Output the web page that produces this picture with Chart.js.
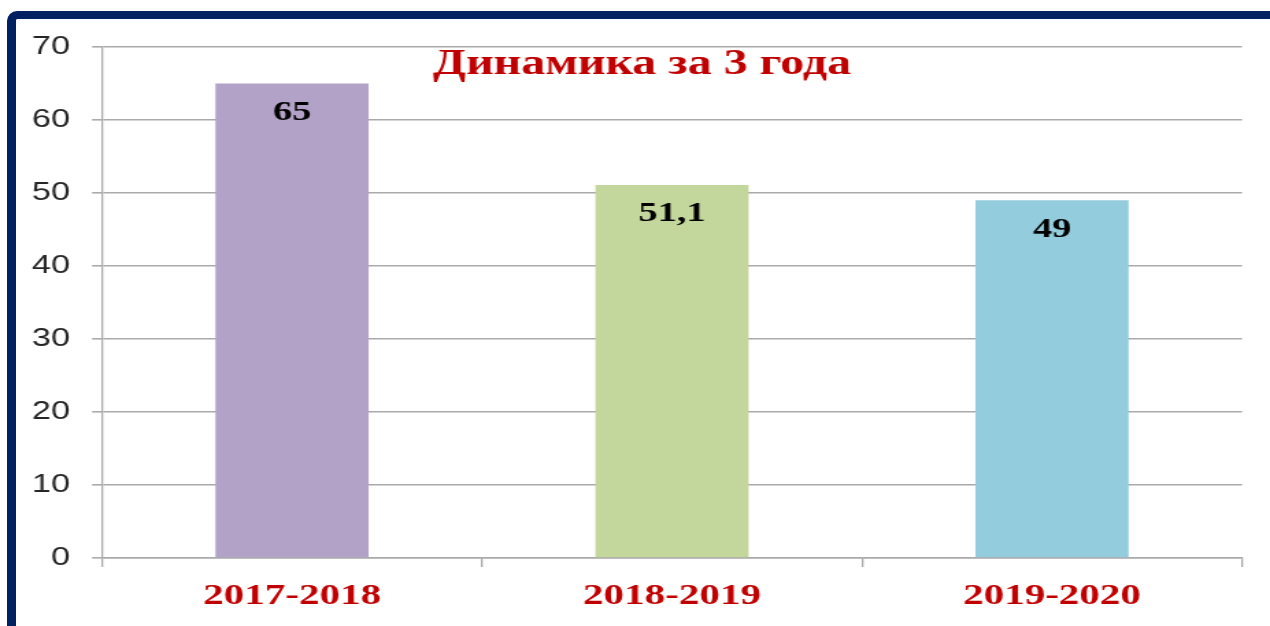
<!DOCTYPE html>
<html>
<head>
<meta charset="utf-8">
<script src="https://cdn.jsdelivr.net/npm/chart.js@4.4.1/dist/chart.umd.min.js"></script>
<style>
  html, body { margin: 0; padding: 0; background: #ffffff; overflow: hidden; }
  #wrap { position: relative; width: 1270px; height: 626px; }
  #frame {
    position: absolute; left: 7px; top: 11px; width: 1400px; height: 800px;
    border-left: 9px solid #002060; border-top: 8px solid #002060;
    border-top-left-radius: 10px; box-sizing: border-box;
  }
  #c { position: absolute; left: 0; top: 0; width: 1270px !important; height: 626px !important; }
</style>
</head>
<body>
<div id="wrap">
  <div id="frame"></div>
  <canvas id="c" width="927" height="626" style="width:1270px;height:626px;"></canvas>
</div>
<script>
const categories = ['2017-2018', '2018-2019', '2019-2020'];
const values = [65, 51.1, 49];
const barColors = ['#B2A2C7', '#C3D69B', '#93CDDD'];
const yTicks = [0, 10, 20, 30, 40, 50, 60, 70];
const titleText = 'Динамика за 3 года';

const SX = 1270 / 927; // horizontal stretch of the original picture

const gridColor = '#AAAAAA';

const labelPlugin = {
  id: 'valueLabels',
  afterDatasetsDraw(chart) {
    const ctx = chart.ctx;
    const meta = chart.getDatasetMeta(0);
    ctx.save();
    ctx.font = 'bold 28px "Liberation Serif", "Times New Roman", serif';
    ctx.fillStyle = '#000000';
    ctx.textAlign = 'center';
    ctx.textBaseline = 'middle';
    meta.data.forEach((bar, i) => {
      const txt = String(chart.data.datasets[0].data[i]).replace('.', ',');
      ctx.fillText(txt, bar.x, bar.y + 29);
    });
    ctx.restore();
  }
};

const titlePlugin = {
  id: 'overlayTitle',
  afterDraw(chart) {
    const ctx = chart.ctx;
    ctx.save();
    ctx.font = 'bold 35px "Liberation Serif", "Times New Roman", serif';
    ctx.fillStyle = '#C00000';
    ctx.textAlign = 'center';
    ctx.textBaseline = 'alphabetic';
    ctx.fillText(titleText, 642 / SX, 74);
    ctx.restore();
  }
};

new Chart(document.getElementById('c'), {
  type: 'bar',
  data: {
    labels: categories,
    datasets: [{
      data: values,
      backgroundColor: barColors,
      borderWidth: 0,
      categoryPercentage: 1.0,
      barPercentage: 0.403
    }]
  },
  options: {
    responsive: false,
    animation: false,
    devicePixelRatio: 1,
    layout: { padding: { left: 0, top: 47, right: 1270 / SX - 1242 / SX, bottom: 0 } },
    plugins: {
      legend: { display: false },
      title: { display: false },
      tooltip: { enabled: false }
    },
    scales: {
      x: {
        grid: {
          display: true,
          offset: true,
          drawOnChartArea: false,
          drawTicks: true,
          tickLength: 9,
          color: gridColor,
          lineWidth: 1.3
        },
        border: { display: true, color: gridColor, width: 1.6 },
        ticks: {
          color: '#C00000',
          font: { family: '"Liberation Serif", "Times New Roman", serif', size: 30, weight: 'bold' },
          padding: 11,
          maxRotation: 0
        },
        afterFit(scale) { scale.height = 68; }
      },
      y: {
        min: 0,
        max: 70,
        afterBuildTicks(scale) { scale.ticks = yTicks.map(v => ({ value: v })); },
        grid: {
          color: gridColor,
          lineWidth: 1.6,
          tickLength: 10 / SX,
          drawTicks: true
        },
        border: { display: true, color: gridColor, width: 1.3 },
        ticks: {
          color: '#262626',
          font: { family: '"Liberation Sans", Arial, sans-serif', size: 25 },
          padding: 16
        },
        afterFit(scale) { scale.width = 102 / SX; }
      }
    }
  },
  plugins: [labelPlugin, titlePlugin]
});
</script>
</body>
</html>
